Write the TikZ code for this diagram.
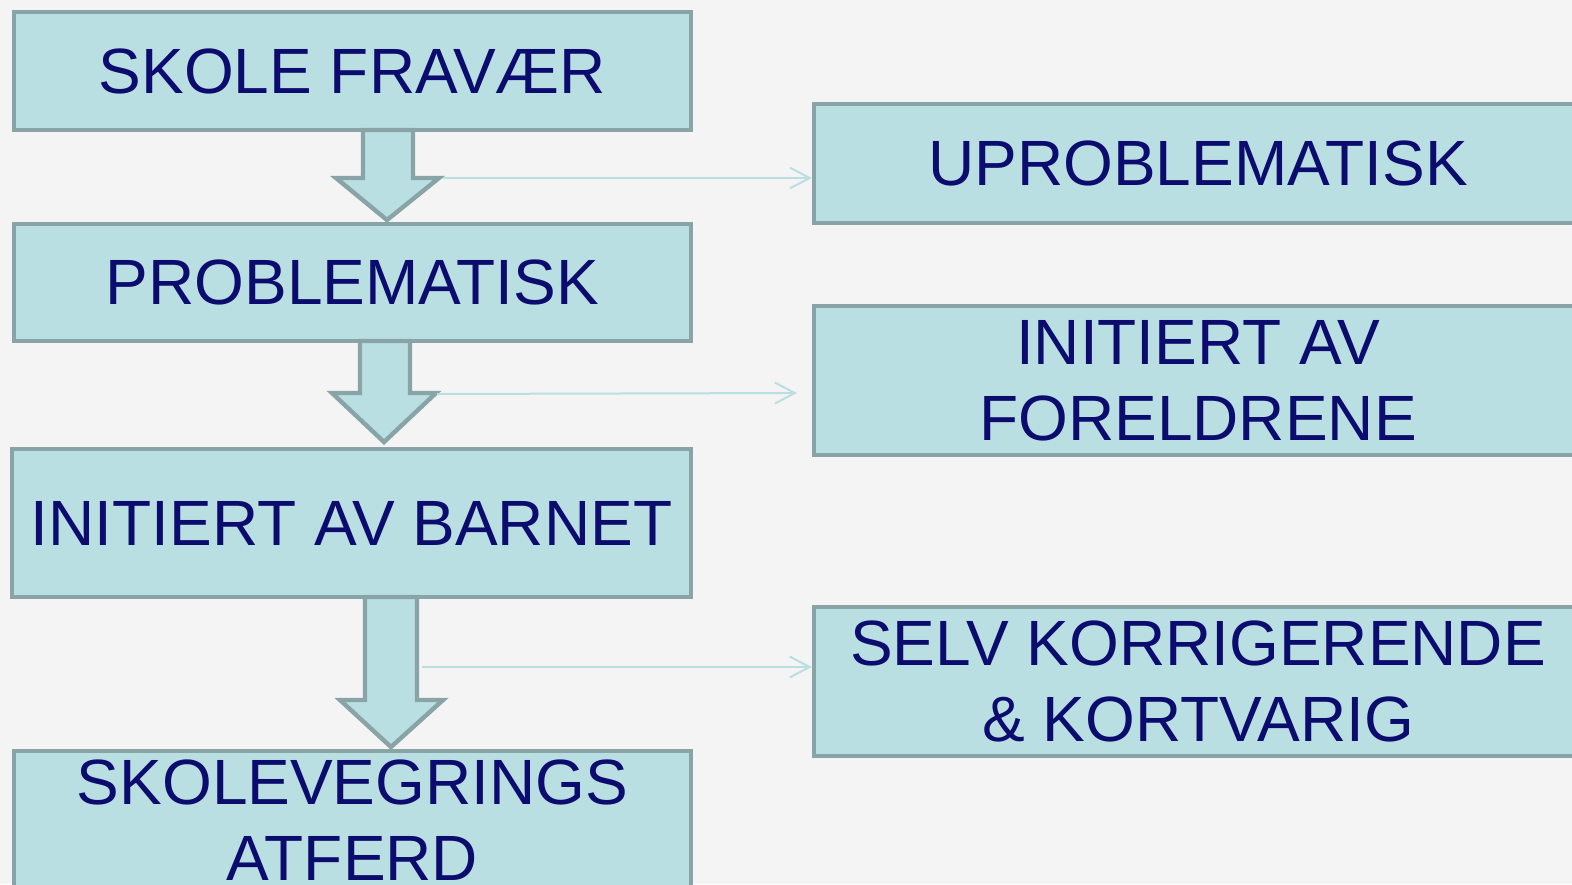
\documentclass[tikz,border=0pt]{standalone}
\usepackage{fontspec}
\setmainfont{Liberation Sans}
\usetikzlibrary{arrows.meta}

\definecolor{boksfyll}{RGB}{186,223,227}
\definecolor{boksrand}{RGB}{136,164,167}
\definecolor{tekstblaa}{RGB}{12,12,110}
\definecolor{bakgrunn}{RGB}{244,244,244}

\tikzset{
  boks/.style={draw=boksrand, fill=boksfyll, line width=2.2pt, inner sep=0pt,
    align=center, text=tekstblaa, font=\fontsize{32}{38}\selectfont},
  blokkpil/.style={draw=boksrand, fill=boksfyll, line width=2.2pt, line join=miter},
  tynnpil/.style={draw=boksfyll, line width=1pt, -{Straight Barb[length=10pt,width=10.5pt]}}
}

\begin{document}
\begin{tikzpicture}[x=0.5pt,y=-0.5pt]
	\clip (0,0) rectangle (1572,884);
	\fill[bakgrunn] (0,0) rectangle (1572,884);

	% venstre kolonne
	\node[boks, minimum width=338.5pt, minimum height=59pt] (frav) at (352.5,71) {SKOLE FRAV\AE R};
	\node[boks, minimum width=338.5pt, minimum height=58.5pt] (probl) at (352.5,282.5) {PROBLEMATISK};
	\node[boks, minimum width=339.5pt, minimum height=74pt] (barn) at (351.5,523) {INITIERT AV BARNET};
	\node[boks, minimum width=338.5pt, minimum height=69pt] (vegr) at (352.5,820) {SKOLEVEGRINGS\\ATFERD};

	% hoyre kolonne
	\node[boks, minimum width=384pt, minimum height=59.5pt] (uprob) at (1198,163.5) {UPROBLEMATISK};
	\node[boks, minimum width=384pt, minimum height=74.5pt] (foreld) at (1198,380.5) {INITIERT AV\\FORELDRENE};
	\node[boks, minimum width=384pt, minimum height=74.5pt] (selv) at (1198,681.5) {SELV KORRIGERENDE\\\& KORTVARIG};

	% blokkpiler
	\draw[blokkpil] (363,130) -- (413,130) -- (413,178) -- (439,178) -- (387,220) -- (336,178) -- (363,178) -- cycle;
	\draw[blokkpil] (360,341) -- (410,341) -- (410,393) -- (436,393) -- (384,442) -- (332,393) -- (360,393) -- cycle;
	\draw[blokkpil] (365,597) -- (417,597) -- (417,700) -- (443,700) -- (391,747) -- (340,700) -- (365,700) -- cycle;

	% tynne piler
	\coordinate (p1) at (443,178);
	\coordinate (p2) at (437,394);
	\coordinate (e2) at (797,393);
	\coordinate (p3) at (422,667);
	\draw[tynnpil] (p1) -- (p1 -| uprob.west);
	\draw[tynnpil] (p2) -- (e2);
	\draw[tynnpil] (p3) -- (p3 -| selv.west);
\end{tikzpicture}
\end{document}
